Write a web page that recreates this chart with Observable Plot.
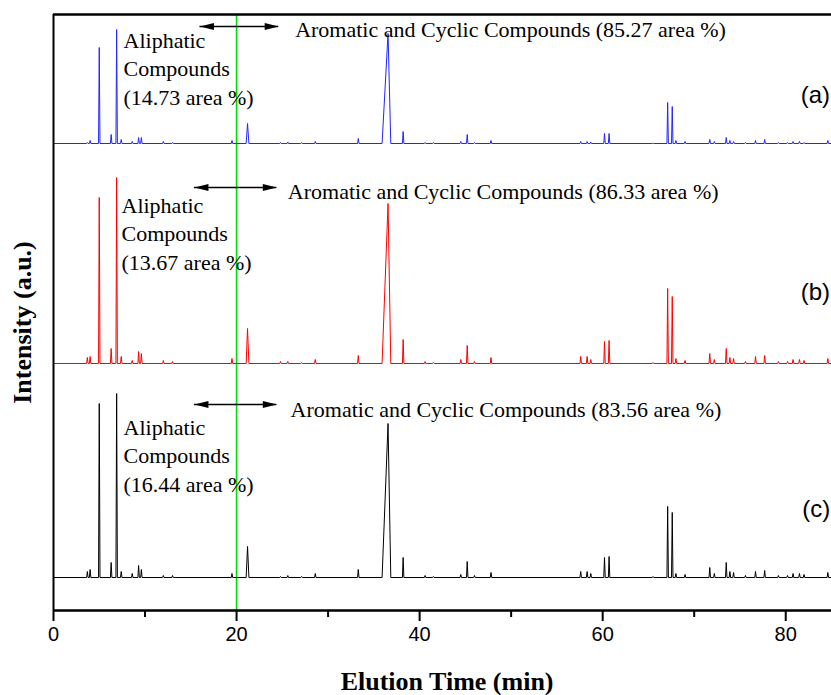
<!DOCTYPE html>
<html>
<head>
<meta charset="utf-8">
<script src="https://cdn.jsdelivr.net/npm/d3@7"></script>
<script src="https://cdn.jsdelivr.net/npm/@observablehq/plot@0.6"></script>
<style>
  html, body { margin: 0; padding: 0; background: #fff; }
  #chart svg { display: block; }
</style>
</head>
<body>
<div id="chart"></div>
<script>
// ---- Data ----
const times = [3.7,4.0,5.0,6.3,6.9,7.4,8.6,9.3,9.6,12.0,13.0,19.5,21.2,24.8,25.6,27.1,28.6,33.3,36.55,38.2,40.6,41.5,44.5,45.2,46.0,47.8,57.6,58.3,58.7,60.2,60.7,65.5,67.1,67.6,68.0,69.0,71.7,72.2,73.5,73.9,74.3,75.6,76.7,77.7,79.2,80.2,80.8,81.5,82.0,84.6];
const heightsA = [1,3,96,9,114,4,2,6,6,2,1,3,20,1,1.5,1,2,5,110,12,1,1,2,9,1,3,2,2,1.5,10,10,0.5,41,37,3,2,4,2,6,3,2,1,3,4,1,1,2,2,1,3];
const heightsB = [6,7,166,15,186,7,3,12,10,3,2,5,35,2,2,1,4,8,160,24,2,1,4,18,2,6,7,7,4,22,23,1,75,67,5,3,10,4,15,6,5,2,7,8,2,2,4,4,3,5];
const heightsC = [6,8,174,15,184,6,4,12,8,2,2,4,31,1,2,1,4,8,154,20,2,1,3,16,2,5,6,6,4,20,21,1,71,65,4,3,10,4,15,6,5,2,6,7,2,2,4,4,3,5];
const broadTimes = [36.55, 21.2];
const broadLeft = [0.65, 0.15];
const broadRight = [0.3, 0.15];
const traceLabels = ["(a)", "(b)", "(c)"];
const traceOffsets = [467, 247, 33];
const aliphaticPct = ["14.73", "13.67", "16.44"];
const aromaticPct = ["85.27", "86.33", "83.56"];
const arrowStart = [16.0, 15.4, 15.4];
const arrowEnd = [24.6, 24.4, 24.4];
const xTicks = [0, 20, 40, 60, 80];
const xMinorTicks = [10, 30, 50, 70];
const boundaryTime = 20;

// ---- Layout / style ----
const colors = ["#2424ff", "#ff0000", "#000000"];
const arrowY = [584, 423, 206];
const aliX = [7.65, 7.43, 7.65];
const aliY = [506, 341, 119];
const aroX = [26.4, 25.6, 25.9];
const aroY = [574, 412, 194];
const labY = [508, 311, 94];
const serif = "Liberation Serif, Times New Roman, serif";
const sans = "Liberation Sans, Arial, sans-serif";

function trace(heights, base, k) {
  const pts = [{t: 0, v: base, k}];
  times.forEach((t, i) => {
    const j = broadTimes.indexOf(t);
    const wl = j >= 0 ? broadLeft[j] : 0.08;
    const wr = j >= 0 ? broadRight[j] : 0.08;
    pts.push({t: t - wl, v: base, k}, {t, v: base + heights[i], k}, {t: t + wr, v: base, k});
  });
  pts.push({t: 85, v: base, k});
  return pts;
}
const series = [heightsA, heightsB, heightsC];
const lines = series.flatMap((h, k) => trace(h, traceOffsets[k], k));

const ann = traceLabels.map((lab, k) => ({
  k, lab,
  ali: `Aliphatic\nCompounds\n(${aliphaticPct[k]} area %)`,
  aro: `Aromatic and Cyclic Compounds (${aromaticPct[k]} area %)`,
  x1: arrowStart[k], x2: arrowEnd[k], ay: arrowY[k],
  alix: aliX[k], aliy: aliY[k], arox: aroX[k], aroy: aroY[k], laby: labY[k]
}));

const head = {
  draw(ctx) {
    ctx.moveTo(0, 0);
    ctx.lineTo(-14, -3.6);
    ctx.lineTo(-14, 3.6);
    ctx.closePath();
  }
};

const chart = Plot.plot({
  width: 831,
  height: 695,
  marginLeft: 53,
  marginRight: 0,
  marginTop: 14,
  marginBottom: 85,
  style: {background: "#fff", fontFamily: sans, color: "#000"},
  x: {domain: [0, 85], axis: null},
  y: {domain: [0, 596], axis: null},
  marks: [
    Plot.ruleX([boundaryTime], {stroke: "#00dd00", strokeWidth: 1.6}),
    ...[0, 1, 2].map(k => Plot.line(lines.filter(d => d.k === k), {x: "t", y: "v", stroke: colors[k], strokeWidth: 1})),
    Plot.ruleY(ann, {y: "ay", x1: "x1", x2: "x2", stroke: "#000", strokeWidth: 1.3}),
    Plot.dot(ann, {x: "x2", y: "ay", symbol: head, fill: "#000", stroke: "none", r: 4}),
    Plot.dot(ann, {x: "x1", y: "ay", symbol: head, fill: "#000", stroke: "none", r: 4, rotate: 180}),
    Plot.text(ann, {x: "alix", y: "aliy", text: "ali", textAnchor: "start", lineAnchor: "bottom", lineHeight: 1.28, fontFamily: serif, fontSize: 22, fill: "#000"}),
    Plot.text(ann, {x: "arox", y: "aroy", text: "aro", textAnchor: "start", lineAnchor: "bottom", fontFamily: serif, fontSize: 22, fill: "#000"}),
    Plot.text(ann, {x: 84.85, y: "laby", text: "lab", textAnchor: "end", lineAnchor: "bottom", fontFamily: sans, fontSize: 24, fill: "#000"}),
    Plot.ruleY([0], {stroke: "#000", strokeWidth: 2.5}),
    Plot.ruleY([596], {stroke: "#000", strokeWidth: 2.5}),
    Plot.ruleX([0], {stroke: "#000", strokeWidth: 2}),
    Plot.axisX({ticks: xTicks, tickSize: 11, tickPadding: 5, fontSize: 20, strokeWidth: 2, label: null, fill: "#000", stroke: "#000"}),
    Plot.axisX({ticks: xMinorTicks, tickSize: 7, tickFormat: () => "", strokeWidth: 2, label: null, stroke: "#000"}),
    Plot.text(["Elution Time (min)"], {x: 43, y: -79, text: d => d, lineAnchor: "bottom", fontFamily: serif, fontWeight: "bold", fontSize: 26, fill: "#000"}),
    Plot.text(["Intensity (a.u.)"], {x: -3.4, y: 288, text: d => d, rotate: -90, fontFamily: serif, fontWeight: "bold", fontSize: 26, fill: "#000"})
  ]
});
document.getElementById("chart").appendChild(chart);
</script>
</body>
</html>
